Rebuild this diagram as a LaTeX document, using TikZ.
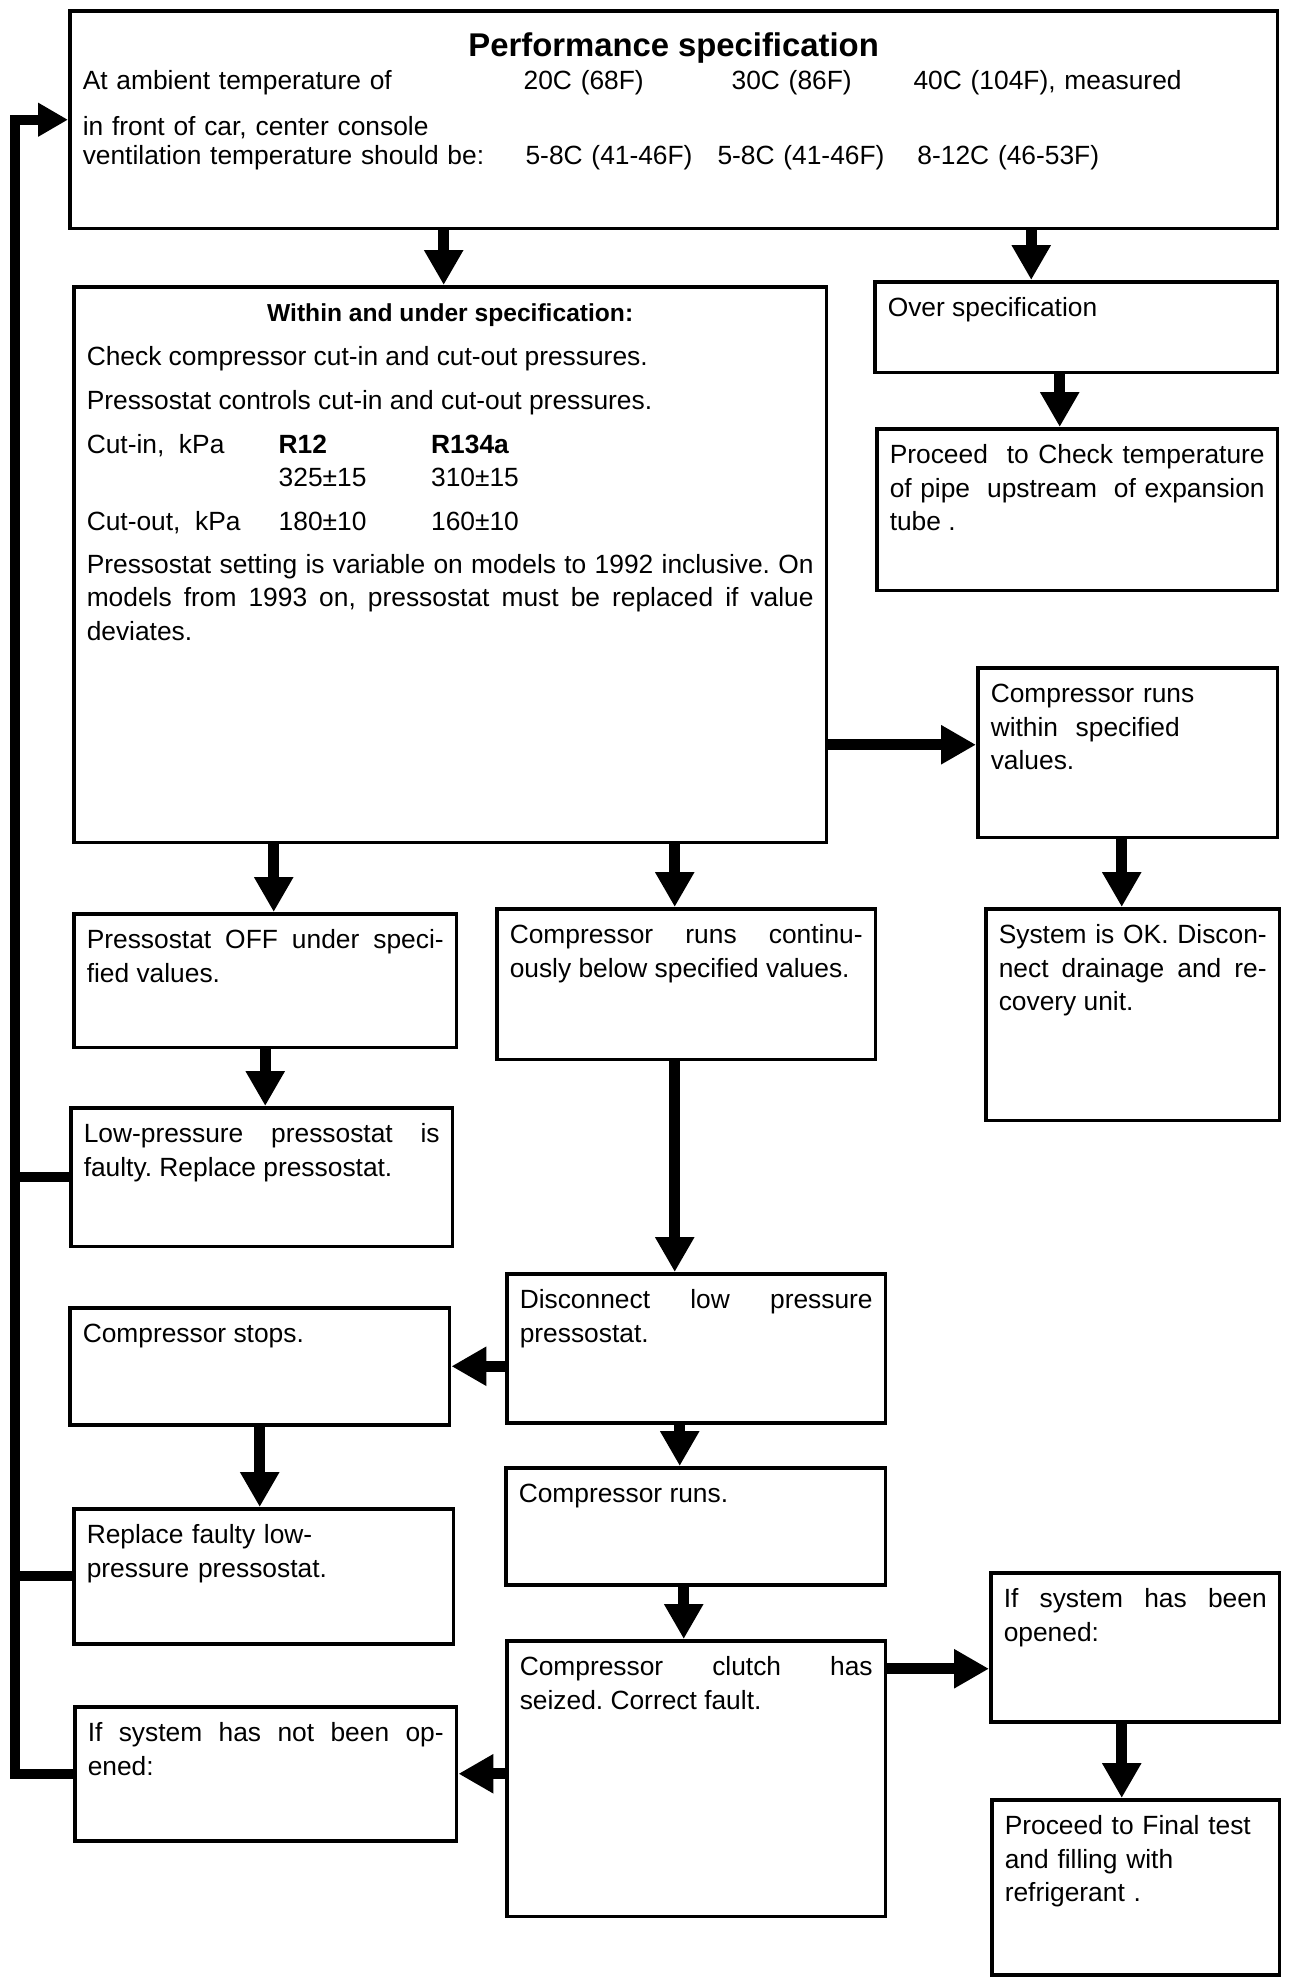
\documentclass[tikz,border=0pt]{standalone}
\usepackage{fontspec}
\setmainfont{Liberation Sans}
\usetikzlibrary{arrows.meta, positioning, calc}
\tolerance 10000
\hyphenpenalty 10000
\exhyphenpenalty 10000
\frenchspacing

\begin{document}
\begin{tikzpicture}[
    x=0.02cm, y=-0.02cm,
    stepbox/.style={rectangle, draw, line width=2pt, anchor=north west, align=justify, inner xsep=0.26cm, inner ysep=0pt, text height=0.7cm,
        font=\fontsize{15}{19}\selectfont},
    arrow/.style={-{Triangle[length=0.7cm, width=0.74cm]}, line width=0.22cm},
    feedback/.style={line width=0.2cm, line join=miter}
]
\useasboundingbox (0,0) rectangle (1296,1980);
\fill[white] (0,0) rectangle (1296,1980);

\node[stepbox, align=left, text width=23.64cm, text height=0.92cm, text depth=3.44cm] (spec) at (68,9) {%
\makebox[\linewidth]{\fontsize{18.7}{19}\selectfont\bfseries Performance specification}\\[-0.02cm]
\makebox[8.82cm][l]{At ambient temperature of}\makebox[4.16cm][l]{20C (68F)}\makebox[3.64cm][l]{30C (86F)}40C (104F), measured\\[0.25cm]
in front of car, center console\\[-0.07cm]
\makebox[8.86cm][l]{ventilation temperature should be:}\makebox[3.84cm][l]{5-8C (41-46F)}\makebox[4cm][l]{5-8C (41-46F)}8-12C (46-53F)};
\node[stepbox, text width=14.54cm, text depth=10.42cm] (within) at (72,285) {%
\makebox[\linewidth]{\fontsize{14}{19}\selectfont\bfseries Within and under specification:}\\[0.21cm]
Check compressor cut-in and cut-out pressures.\\[0.21cm]
Pressostat controls cut-in and cut-out pressures.\\[0.21cm]
\makebox[3.84cm][l]{Cut-in,\ \ kPa}\makebox[3.05cm][l]{\bfseries R12}\textbf{R134a}\\
\hspace*{3.84cm}\makebox[3.05cm][l]{325±15}310±15\\[0.2cm]
\makebox[3.84cm][l]{Cut-out,\ \ kPa}\makebox[3.05cm][l]{180±10}160±10\\[0.2cm]
Pressostat setting is variable on models to 1992 inclusive. On\linebreak
models from 1993 on, pressostat must be replaced if value\linebreak
deviates.};
\node[stepbox, text width=7.54cm, text depth=1.12cm] (over) at (873,280) {Over specification};
\node[stepbox, text width=7.5cm, text depth=2.54cm] (check) at (875,427) {Proceed\ \ to Check temperature\linebreak of pipe\ \ upstream\ \ of expansion\linebreak tube .};
\node[stepbox, align=left, text width=5.48cm, text depth=2.7cm] (runok) at (976,666) {Compressor runs\\ within\ \ specified\\ values.};
\node[stepbox, text width=5.36cm, text depth=3.54cm] (sysok) at (984,907) {System is OK. Discon-\linebreak nect drainage and re-\linebreak covery unit.};
\node[stepbox, text width=7.14cm, text depth=1.98cm] (off) at (72,912) {Pressostat OFF under speci-\linebreak fied values.};
\node[stepbox, text width=7.06cm, text depth=2.32cm] (cont) at (495,907) {Compressor runs continu-\linebreak ously below specified values.};
\node[stepbox, text width=7.12cm, text depth=2.08cm] (lowp) at (69,1106) {Low-pressure pressostat is\linebreak faulty. Replace pressostat.};
\node[stepbox, text width=7.06cm, text depth=2.28cm] (disc) at (505,1272) {Disconnect low pressure\linebreak pressostat.};
\node[stepbox, text width=7.08cm, text depth=1.64cm] (stops) at (68,1306) {Compressor stops.};
\node[stepbox, align=left, text width=7.08cm, text depth=2cm] (repl) at (72,1507) {Replace faulty low-\\ pressure pressostat.};
\node[stepbox, text width=7.08cm, text depth=1.64cm] (cruns) at (504,1466) {Compressor runs.};
\node[stepbox, text width=7.06cm, text depth=4.82cm] (clutch) at (505,1639) {Compressor clutch has\linebreak seized. Correct fault.};
\node[stepbox, text width=5.26cm, text depth=2.28cm] (opened) at (989,1571) {If system has been\linebreak opened:};
\node[stepbox, align=left, text width=5.24cm, text depth=2.8cm] (final) at (990,1798) {Proceed to Final test\\ and filling with\\ refrigerant .};
\node[stepbox, text width=7.12cm, text depth=1.98cm] (notop) at (73,1705) {If system has not been op-\linebreak ened:};

\draw[arrow] ([xshift=-0.13cm]within.north |- spec.south) -- ([xshift=-0.13cm]within.north);
\draw[arrow] ([xshift=-0.9cm]over.north |- spec.south) -- ([xshift=-0.9cm]over.north);
\draw[arrow] ([xshift=-0.35cm]check.north |- over.south) -- ([xshift=-0.35cm]check.north);
\draw[arrow] ([yshift=0.16cm]within.east |- runok.west) -- ([yshift=0.16cm]runok.west);
\draw[arrow] ([xshift=-0.12cm]runok.south) -- ([xshift=-0.12cm]runok.south |- sysok.north);
\draw[arrow] ([xshift=0.17cm]off.north |- within.south) -- ([xshift=0.17cm]off.north);
\draw[arrow] ([xshift=-0.23cm]cont.north |- within.south) -- ([xshift=-0.23cm]cont.north);
\draw[arrow] (off.south) -- (off.south |- lowp.north);
\draw[arrow] ([xshift=-0.23cm]cont.south) -- ([xshift=-0.23cm]cont.south |- disc.north);
\draw[arrow] (disc.west |- stops.east) -- (stops.east);
\draw[arrow] (stops.south) -- (stops.south |- repl.north);
\draw[arrow] ([xshift=-0.33cm]disc.south) -- ([xshift=-0.33cm]disc.south |- cruns.north);
\draw[arrow] ([xshift=-0.24cm]cruns.south) -- ([xshift=-0.24cm]cruns.south |- clutch.north);
\draw[arrow] ([yshift=-0.43cm]clutch.east |- opened.west) -- ([yshift=-0.43cm]opened.west);
\draw[arrow] ([xshift=-0.27cm]opened.south) -- ([xshift=-0.27cm]opened.south |- final.north);
\draw[arrow] (clutch.west |- notop.east) -- (notop.east);

\coordinate (rail) at (15,0);
\draw[feedback, -{Triangle[length=0.6cm, width=0.64cm]}] (notop.west) -- (notop.west -| rail) |- (spec.west);
\draw[feedback] (lowp.west) -- (lowp.west -| rail);
\draw[feedback] (repl.west) -- (repl.west -| rail);
\end{tikzpicture}
\end{document}
